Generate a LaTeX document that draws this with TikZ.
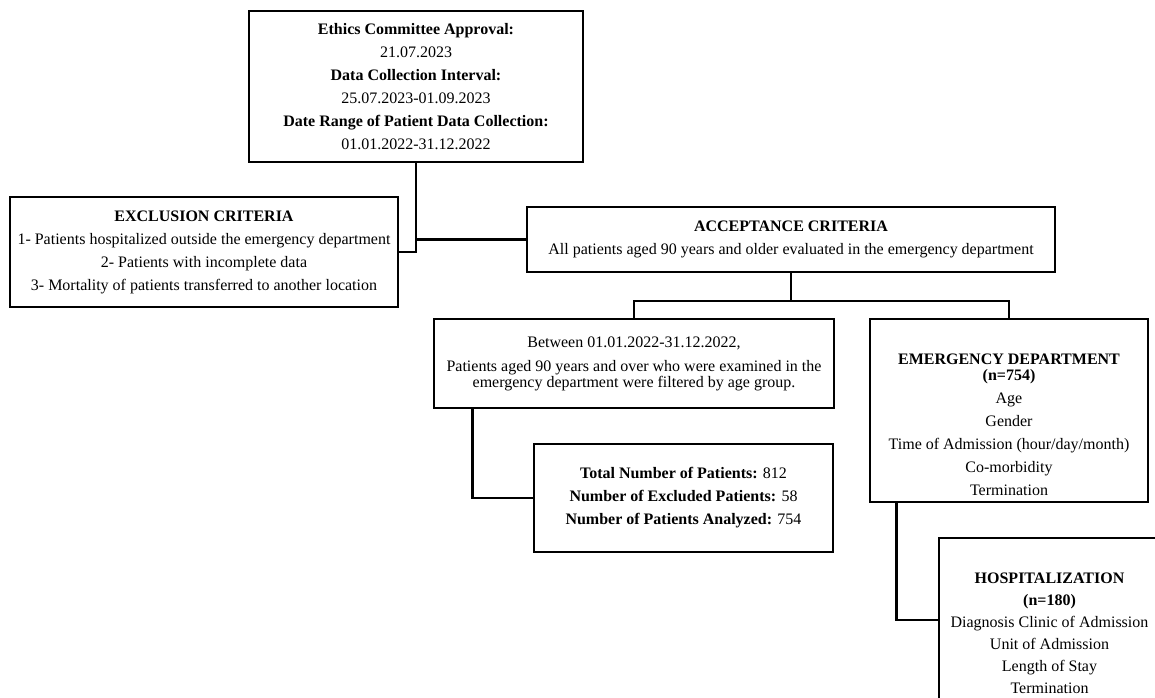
\documentclass[tikz,border=0pt]{standalone}
\usepackage{fontspec}
\setmainfont{Liberation Serif}
\usepackage{tikz}
\usetikzlibrary{positioning}
\tikzset{box/.style={draw,rectangle,inner sep=0pt,align=center,line width=2pt,
  font=\fontsize{12}{17.25}\selectfont},
  link/.style={line width=2pt}}

\begin{document}
\begin{tikzpicture}[x=0.75pt,y=-0.75pt]
\useasboundingbox (0,0) rectangle (1155,698);
\node[box,minimum width=250.5pt,minimum height=113.25pt] (ethics) at (416,86.5)
  {\textbf{Ethics Committee Approval:}\\21.07.2023\\\textbf{Data Collection Interval:}\\
   25.07.2023-01.09.2023\\\textbf{Date Range of Patient Data Collection:}\\01.01.2022-31.12.2022};
\node[box,minimum width=291pt,minimum height=82.5pt] (excl) at (204,252)
  {\textbf{EXCLUSION CRITERIA}\\1- Patients hospitalized outside the emergency department\\
   2- Patients with incomplete data\\3- Mortality of patients transferred to another location};
\node[box,minimum width=396pt,minimum height=48.75pt] (accept) at (791,239.5)
  {\textbf{ACCEPTANCE CRITERIA}\\All patients aged 90 years and older evaluated in the emergency department};
\node[box,minimum width=300pt,minimum height=66.75pt] (between) at (634,363.5)
  {Between 01.01.2022-31.12.2022,\\[1pt]Patients aged 90 years and over who were examined in the\\[-5.5pt]
   emergency department were filtered by age group.};
\node[box,minimum width=224.25pt,minimum height=81pt] (total) at (683.5,498)
  {\textbf{Total Number of Patients:} 812\\\textbf{Number of Excluded Patients:} 58\\
   \textbf{Number of Patients Analyzed:} 754};
\node[box,minimum width=208.5pt,minimum height=137.25pt] (ed) at (1009,410.5)
  {\strut\\\textbf{EMERGENCY DEPARTMENT}\\[-5.25pt]\textbf{(n=754)}\\Age\\Gender\\
   Time of Admission (hour/day/month)\\Co-morbidity\\Termination};
\node[box,minimum width=165.75pt,minimum height=123pt,
  font=\fontsize{12}{16.5}\selectfont] (hosp) at (1049.5,620)
  {\strut\\\textbf{HOSPITALIZATION}\\\textbf{(n=180)}\\Diagnosis Clinic of Admission\\
   Unit of Admission\\Length of Stay\\Termination};

\coordinate (split) at (791,301);
\draw[link] (ethics.south) |- (excl.east);
\draw[link] (accept.west) -- (accept.west -| ethics.south);
\draw[link] (accept.south) -- (split);
\draw[link] (between.north) |- (split) -| (ed.north);
\draw[link] ([xshift=30pt]between.south west) |- (total.west);
\draw[link] ([xshift=21pt]ed.south west) |- (hosp.west);
\end{tikzpicture}
\end{document}
